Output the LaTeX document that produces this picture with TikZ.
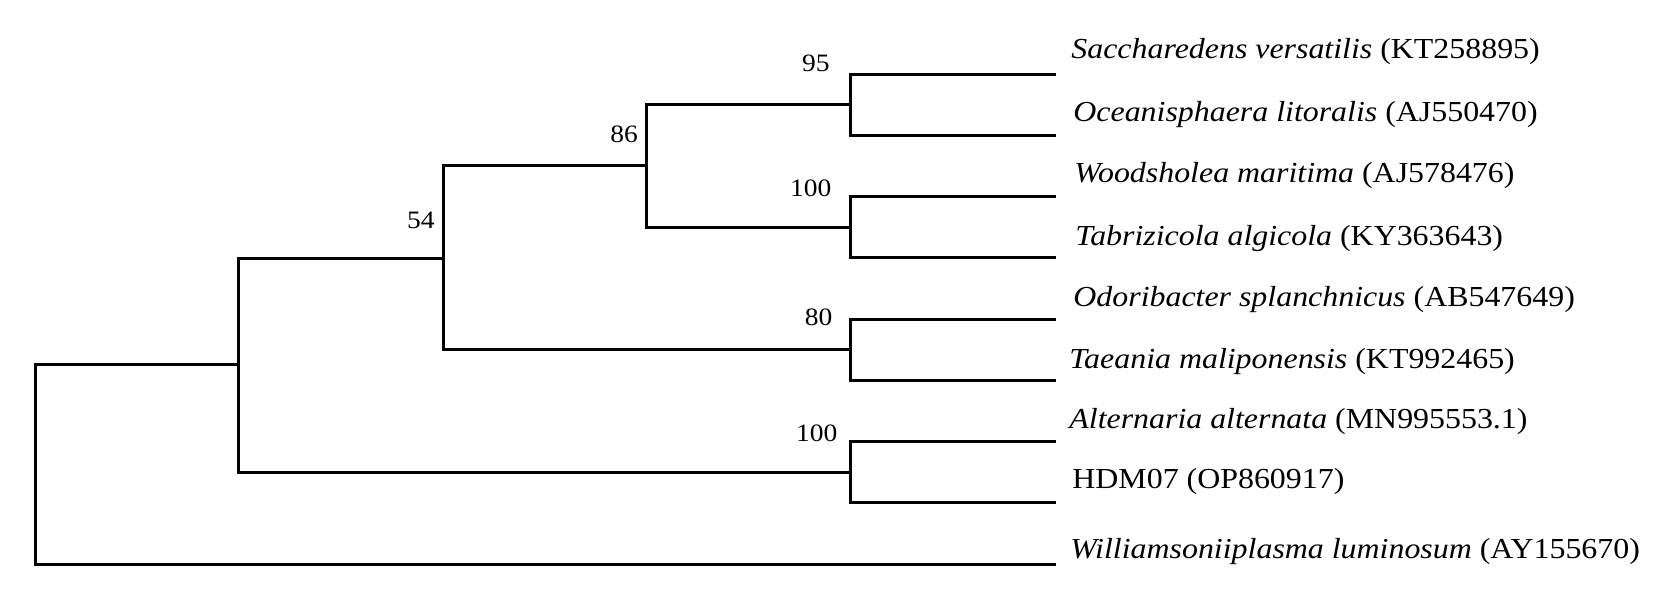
\documentclass[tikz,border=0pt]{standalone}
\usepackage{fontspec}
\setmainfont{Liberation Serif}[FakeStretch=1.1]
\begin{document}
\begin{tikzpicture}[x=0.5pt,y=-0.5pt,
  branch/.style={line width=1.5pt, line join=miter, line cap=butt},
  leaflab/.style={anchor=base west, inner sep=0pt, font=\fontsize{14.5}{16}\selectfont},
  boot/.style={anchor=base east, inner sep=0pt, font=\fontsize{12.5}{14}\selectfont}]
\fill[white] (0,0) rectangle (1669,598);
\useasboundingbox (0,0) rectangle (1669,598);
% internal nodes
\coordinate (root) at (35.5,464.5);
\coordinate (n2) at (238.5,364.5);
\coordinate (n54) at (443.5,258.5);
\coordinate (n86) at (646.5,165.5);
\coordinate (n95) at (850.5,104.5);
\coordinate (n100a) at (850.5,227.5);
\coordinate (n80) at (850.5,349.5);
\coordinate (n100b) at (850.5,472.5);
% leaf ends
\coordinate (e1) at (1056,74.5);
\coordinate (e2) at (1056,135.5);
\coordinate (e3) at (1056,196.5);
\coordinate (e4) at (1056,257.5);
\coordinate (e5) at (1056,319.5);
\coordinate (e6) at (1056,380.5);
\coordinate (e7) at (1056,441.5);
\coordinate (e8) at (1056,502.5);
\coordinate (e9) at (1056,564.5);
% branches
\draw[branch] (root) |- (n2);
\draw[branch] (root) |- (e9);
\draw[branch] (n2) |- (n54);
\draw[branch] (n2) |- (n100b);
\draw[branch] (n54) |- (n86);
\draw[branch] (n54) |- (n80);
\draw[branch] (n86) |- (n95);
\draw[branch] (n86) |- (n100a);
\draw[branch] (n95) |- (e1);
\draw[branch] (n95) |- (e2);
\draw[branch] (n100a) |- (e3);
\draw[branch] (n100a) |- (e4);
\draw[branch] (n80) |- (e5);
\draw[branch] (n80) |- (e6);
\draw[branch] (n100b) |- (e7);
\draw[branch] (n100b) |- (e8);
% bootstrap values
\node[boot] (b95) at (830,71.7) {95};
\node[boot] (b100a) at (831.7,196.7) {100};
\node[boot] (b80) at (832.7,325.7) {80};
\node[boot] (b100b) at (837.7,441.7) {100};
\node[boot] (b86) at (638.3,142.3) {86};
\node[boot] (b54) at (435,228.3) {54};
% leaf labels
\node[leaflab] (t1) at (1071,58.3) {\textit{Saccharedens versatilis} (KT258895)};
\node[leaflab] (t2) at (1073,121.7) {\textit{Oceanisphaera litoralis} (AJ550470)};
\node[leaflab] (t3) at (1074,182.7) {\textit{Woodsholea maritima} (AJ578476)};
\node[leaflab] (t4) at (1075,246) {\textit{Tabrizicola algicola} (KY363643)};
\node[leaflab] (t5) at (1073,306.7) {\textit{Odoribacter splanchnicus} (AB547649)};
\node[leaflab] (t6) at (1069,368.3) {\textit{Taeania maliponensis} (KT992465)};
\node[leaflab] (t7) at (1069,428.5) {\textit{Alternaria alternata} (MN995553.1)};
\node[leaflab] (t8) at (1072,488.3) {HDM07 (OP860917)};
\node[leaflab] (t9) at (1070,558.3) {\textit{Williamsoniiplasma luminosum} (AY155670)};
\end{tikzpicture}
\end{document}
